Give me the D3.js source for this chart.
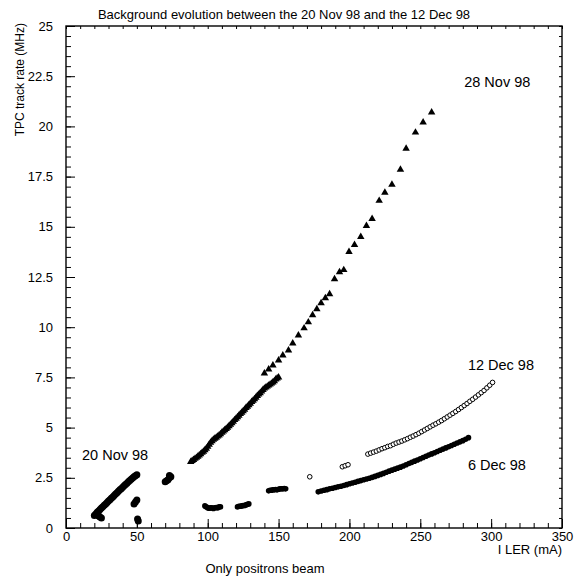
<!DOCTYPE html>
<html lang="en">
<head>
    <meta charset="UTF-8">
    <script src="https://d3js.org/d3.v7.min.js"></script>
    <title>Background evolution</title>
    <style>
        body { margin: 0; background: #fff; }
        text { font-family: "Liberation Sans", Arial, sans-serif; fill: #000; }
    </style>
</head>
<body>
<div id="chart"></div>
<script>
    // axis ticks
    const xTicks = [0, 50, 100, 150, 200, 250, 300, 350];
    const yTicks = [0, 2.5, 5, 7.5, 10, 12.5, 15, 17.5, 20, 22.5, 25];

    // 20 Nov 98 (filled circles)
    const nov20 = [
        [20, 0.62], [21, 0.7], [22, 0.78], [23, 0.85], [24, 0.92], [25, 0.99], [26, 1.06],
        [27, 1.13], [28, 1.2], [29, 1.27], [30, 1.34], [31, 1.41], [32, 1.48], [33, 1.55],
        [34, 1.62], [35, 1.69], [36, 1.76], [37, 1.83], [38, 1.9], [39, 1.96], [40, 2.03],
        [41, 2.1], [42, 2.17], [43, 2.23], [44, 2.3], [45, 2.36], [46, 2.43], [47, 2.49],
        [48, 2.55], [49, 2.6], [50, 2.65],
        [23, 0.6], [24, 0.55], [25, 0.5],
        [48, 1.2], [49, 1.3], [50, 1.4], [51, 0.35], [50.5, 0.45],
        [70, 2.3], [71, 2.35], [72, 2.4], [73, 2.5], [74, 2.55], [73, 2.62]
    ];

    // 28 Nov 98 (triangles): dense part, then sparse points higher up
    const nov28 = [
        [88, 3.30], [89, 3.35], [90, 3.40], [91, 3.45], [92, 3.50], [93, 3.56], [94, 3.62],
        [95, 3.68], [96, 3.75], [97, 3.81], [98, 3.88], [99, 3.96], [100, 4.05], [101, 4.15],
        [102, 4.25], [103, 4.33], [104, 4.40], [105, 4.45], [106, 4.50], [107, 4.56], [108, 4.62],
        [109, 4.68], [110, 4.75], [111, 4.81], [112, 4.88], [113, 4.94], [114, 5.00], [115, 5.08],
        [116, 5.15], [117, 5.22], [118, 5.30], [119, 5.38], [120, 5.45], [121, 5.52], [122, 5.60],
        [123, 5.68], [124, 5.75], [125, 5.82], [126, 5.90], [127, 5.98], [128, 6.05], [129, 6.12],
        [130, 6.20], [131, 6.28], [132, 6.35], [133, 6.42], [134, 6.50], [135, 6.58], [136, 6.65],
        [137, 6.72], [138, 6.80], [139, 6.88], [140, 6.95], [141, 7.0], [142, 7.05], [143, 7.1],
        [144, 7.15], [145, 7.2], [146, 7.25], [147, 7.32], [148, 7.4], [149, 7.45], [150, 7.5],
        [140, 7.7], [143, 7.9], [146, 8.1], [150, 8.35], [153, 8.6], [157, 8.85], [160, 9.2],
        [164, 9.6], [168, 9.95], [171, 10.25], [174, 10.6], [177, 10.9], [180, 11.2],
        [183, 11.45], [186, 11.65], [189.5, 12.4], [193, 12.75], [196, 12.85], [199.7, 13.75],
        [203.6, 14.1], [208, 14.5], [212, 15.05], [216, 15.4], [221, 16.3], [225, 16.7],
        [230, 17.1], [236, 17.85], [240, 18.9], [246.6, 19.7], [252, 20.2], [258, 20.7]
    ];

    // 6 Dec 98 (filled circles)
    const dec6 = [
        [98, 1.1], [99, 1.05], [100, 1.0], [101, 0.98], [102, 1.0], [103, 1.0], [104, 0.97],
        [105, 1.0], [106, 1.02], [107, 1.0], [108, 1.05], [109, 1.05],
        [121, 1.05], [122, 1.08], [123, 1.08], [124, 1.1], [125, 1.12], [126, 1.12], [127, 1.15],
        [128, 1.18], [129, 1.2],
        [143, 1.85], [144, 1.88], [145, 1.88], [146, 1.9], [147, 1.9], [148, 1.92], [149, 1.9],
        [150, 1.93], [151, 1.95], [152, 1.95], [153, 1.95], [154, 1.97], [155, 1.95],
        [178, 1.80], [180, 1.84], [182, 1.88], [184, 1.91], [186, 1.95], [188, 1.98], [190, 2.02],
        [192, 2.05], [194, 2.08], [196, 2.12], [198, 2.16], [200, 2.20], [202, 2.24], [204, 2.28],
        [206, 2.32], [208, 2.36], [210, 2.40], [212, 2.44], [214, 2.48], [216, 2.52], [218, 2.57],
        [220, 2.62], [222, 2.67], [224, 2.72], [226, 2.78], [228, 2.83], [230, 2.88], [232, 2.93],
        [234, 2.98], [236, 3.03], [238, 3.09], [240, 3.15], [242, 3.21], [244, 3.27], [246, 3.33],
        [248, 3.39], [250, 3.45], [252, 3.51], [254, 3.57], [256, 3.63], [258, 3.69], [260, 3.75],
        [262, 3.81], [264, 3.87], [266, 3.93], [268, 3.99], [270, 4.05], [272, 4.11], [274, 4.17],
        [276, 4.23], [278, 4.29], [280, 4.35], [282, 4.42], [284, 4.5]
    ];

    // 12 Dec 98 (open circles)
    const dec12 = [
        [172, 2.55], [195, 3.05], [197, 3.1], [199, 3.15],
        [213, 3.68], [215, 3.73], [217, 3.78], [219, 3.83], [221, 3.89], [223, 3.95], [225, 4.0],
        [227, 4.06], [229, 4.1], [231, 4.17], [233, 4.23], [235, 4.28], [237, 4.33], [239, 4.39],
        [241, 4.45], [243, 4.52], [245, 4.58], [247, 4.65], [249, 4.72], [251, 4.8], [253, 4.88],
        [255, 4.96], [257, 5.04], [259, 5.12], [261, 5.19], [263, 5.27], [265, 5.35], [267, 5.44],
        [269, 5.53], [271, 5.62], [273, 5.71], [275, 5.8], [277, 5.9], [279, 6.0], [281, 6.1],
        [283, 6.2], [285, 6.31], [287, 6.41], [289, 6.52], [291, 6.63], [293, 6.74], [295, 6.85],
        [297, 6.98], [299, 7.11], [301, 7.25]
    ];

    const width = 576;
    const height = 581;
    const margin = { top: 26, right: 14, bottom: 53, left: 66 };

    const svg = d3.select("#chart")
        .append("svg")
        .attr("width", width)
        .attr("height", height);

    const x = d3.scaleLinear().domain([0, 350]).range([margin.left, width - margin.right]);
    const y = d3.scaleLinear().domain([0, 25]).range([height - margin.bottom, margin.top]);

    const minorX = d3.range(0, 351, 10);
    const minorY = d3.range(0, 25.01, 0.5);

    // bottom and top axes (ticks inside)
    svg.append("g")
        .attr("transform", `translate(0,${y(0)})`)
        .call(d3.axisBottom(x).tickValues(minorX).tickSize(-5).tickFormat(""))
        .call(g => g.select(".domain").remove());
    svg.append("g")
        .attr("transform", `translate(0,${y(0)})`)
        .call(d3.axisBottom(x).tickValues(xTicks).tickSize(-9).tickPadding(4).tickFormat(d3.format("d")))
        .call(g => g.select(".domain").remove())
        .call(g => g.selectAll("text").attr("font-size", 13));
    svg.append("g")
        .attr("transform", `translate(0,${y(25)})`)
        .call(d3.axisTop(x).tickValues(minorX).tickSize(-3).tickFormat(""))
        .call(g => g.select(".domain").remove());

    // left and right axes
    svg.append("g")
        .attr("transform", `translate(${x(0)},0)`)
        .call(d3.axisLeft(y).tickValues(minorY).tickSize(-5).tickFormat(""))
        .call(g => g.select(".domain").remove());
    svg.append("g")
        .attr("transform", `translate(${x(0)},0)`)
        .call(d3.axisLeft(y).tickValues(yTicks).tickSize(-9).tickPadding(13).tickFormat(d => d))
        .call(g => g.select(".domain").remove())
        .call(g => g.selectAll("text").attr("font-size", 13));
    svg.append("g")
        .attr("transform", `translate(${x(350)},0)`)
        .call(d3.axisRight(y).tickValues(minorY).tickSize(-3).tickFormat(""))
        .call(g => g.select(".domain").remove());

    // frame
    svg.append("rect")
        .attr("x", x(0)).attr("y", y(25))
        .attr("width", x(350) - x(0)).attr("height", y(0) - y(25))
        .attr("fill", "none").attr("stroke", "#000").attr("stroke-width", 1.4);

    const plot = svg.append("g");

    // filled circle series
    plot.selectAll(".nov20").data(nov20).enter().append("circle")
        .attr("cx", d => x(d[0])).attr("cy", d => y(d[1])).attr("r", 3.5).attr("fill", "#000");
    plot.selectAll(".dec6").data(dec6).enter().append("circle")
        .attr("cx", d => x(d[0])).attr("cy", d => y(d[1])).attr("r", 2.8).attr("fill", "#000");

    // open circles
    plot.selectAll(".dec12").data(dec12).enter().append("circle")
        .attr("cx", d => x(d[0])).attr("cy", d => y(d[1])).attr("r", 2.3)
        .attr("fill", "#fff").attr("stroke", "#000").attr("stroke-width", 1);

    // triangles
    const tri = d3.symbol().type(d3.symbolTriangle).size(24);
    plot.selectAll(".nov28").data(nov28).enter().append("path")
        .attr("d", tri)
        .attr("transform", d => `translate(${x(d[0])},${y(d[1])})`)
        .attr("fill", "#000");

    // series labels
    const labels = [
        { t: "28 Nov 98", v: [281, 21.96], c: "#000" },
        { t: "12 Dec 98", v: [283.6, 7.87], c: "#444" },
        { t: "6 Dec 98", v: [283.6, 2.89], c: "#000" },
        { t: "20 Nov 98", v: [11.3, 3.39], c: "#555" }
    ];
    svg.selectAll(".lbl").data(labels).enter().append("text")
        .attr("x", d => x(d.v[0])).attr("y", d => y(d.v[1]))
        .attr("font-size", 14.5).attr("fill", d => d.c)
        .text(d => d.t);

    // titles
    svg.append("text")
        .attr("x", 284).attr("y", 19)
        .attr("text-anchor", "middle").attr("font-size", 13)
        .text("Background evolution between the 20 Nov 98 and the 12 Dec 98");

    svg.append("text")
        .attr("transform", "translate(24,23) rotate(-90)")
        .attr("text-anchor", "end").attr("font-size", 12)
        .text("TPC track rate (MHz)");

    svg.append("text")
        .attr("x", x(350)).attr("y", 554)
        .attr("text-anchor", "end").attr("font-size", 13)
        .text("I LER (mA)");

    svg.append("text")
        .attr("x", 265).attr("y", 573)
        .attr("text-anchor", "middle").attr("font-size", 13)
        .text("Only positrons beam");
</script>
</body>
</html>
